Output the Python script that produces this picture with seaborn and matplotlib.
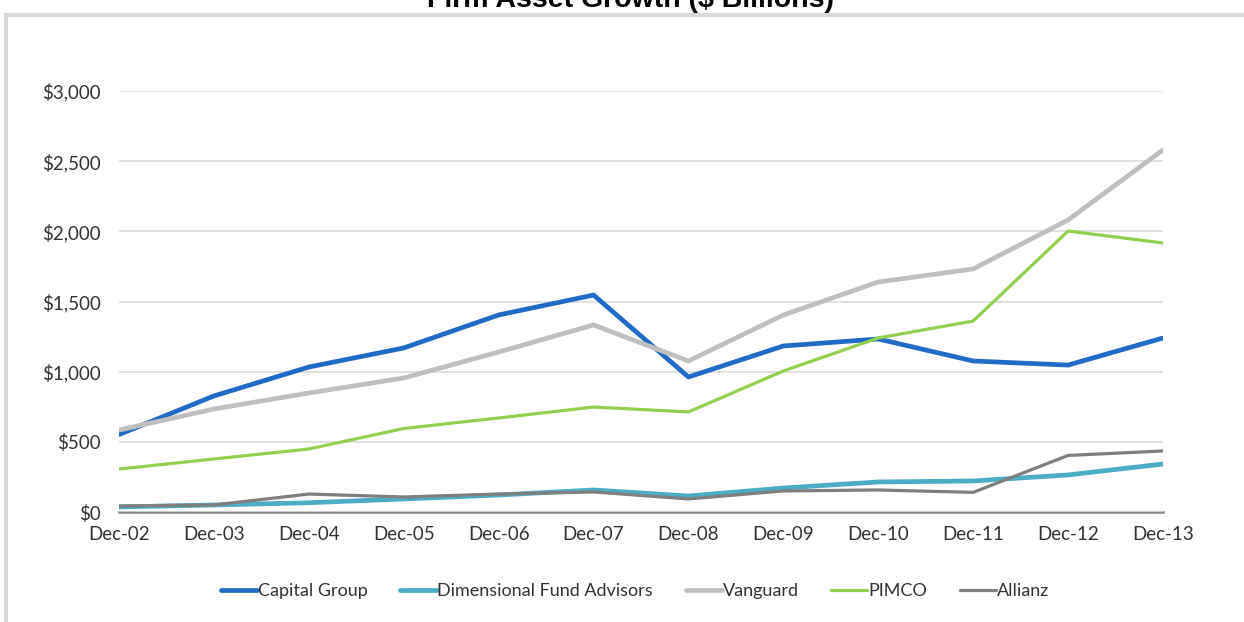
import numpy as np
import pandas as pd
import matplotlib
matplotlib.use("Agg")
import matplotlib.pyplot as plt
import seaborn as sns
from matplotlib.patches import Rectangle
from matplotlib.ticker import FuncFormatter


# DATA ($ billions)

dates = ["Dec-02", "Dec-03", "Dec-04", "Dec-05", "Dec-06", "Dec-07",
         "Dec-08", "Dec-09", "Dec-10", "Dec-11", "Dec-12", "Dec-13"]

capital_group = [552, 827, 1033, 1169, 1404, 1546, 962, 1183, 1233, 1076, 1047, 1240]
dimensional = [36, 50, 66, 93, 121, 157, 114, 171, 214, 221, 264, 342]
vanguard = [584, 734, 848, 955, 1140, 1333, 1076, 1404, 1639, 1732, 2081, 2580]
pimco = [306, 378, 449, 595, 670, 748, 713, 1005, 1240, 1361, 2002, 1917]
allianz = [43, 50, 128, 107, 128, 143, 93, 150, 157, 140, 403, 435]

series_names = ["Capital Group", "Dimensional Fund Advisors", "Vanguard", "PIMCO", "Allianz"]
series_values = [capital_group, dimensional, vanguard, pimco, allianz]
colors = ["#1F6BC5", "#4BACC6", "#BFBFBF", "#92D050", "#7F7F7F"]
widths = [3.4, 3.4, 3.4, 2.3, 2.3]

y_ticks = [0, 500, 1000, 1500, 2000, 2500, 3000]


# PLOT

sns.set_style("white")
plt.rcParams["font.family"] = ["Lato", "DejaVu Sans"]

fig = plt.figure(figsize=(12.44, 6.22), dpi=100)
ax = fig.add_axes([119 / 1244, 1 - 512 / 622, (1163 - 119) / 1244, (512 - 91) / 622])

x = np.arange(len(dates))

for name, vals, col, lw in zip(series_names, series_values, colors, widths):
    sns.lineplot(
        x=x,
        y=vals,
        ax=ax,
        color=col,
        linewidth=lw,
        label=name,
        solid_capstyle="round",
        solid_joinstyle="round"
    )

ax.set_xlim(0, 11)
ax.set_ylim(0, 3000)
ax.set_xticks(x)
ax.set_xticklabels(dates)
ax.set_yticks(y_ticks)
ax.yaxis.set_major_formatter(FuncFormatter(lambda v, p: "${:,.0f}".format(v)))

ax.grid(axis="y", color="#D9D9D9", linewidth=1.1)
ax.set_axisbelow(True)
for s in ["top", "right", "left"]:
    ax.spines[s].set_visible(False)
ax.spines["bottom"].set_color("#868686")
ax.spines["bottom"].set_linewidth(1.8)
ax.spines["bottom"].set_zorder(0.5)

ax.tick_params(axis="both", length=0, labelsize=13.5, labelcolor="#333333")
ax.tick_params(axis="x", pad=10)
ax.tick_params(axis="y", pad=13)
ax.set_xlabel("")
ax.set_ylabel("")

ax.legend(
    loc="center",
    bbox_to_anchor=(635 / 1244, 1 - 591 / 622),
    bbox_transform=fig.transFigure,
    ncol=5,
    frameon=False,
    fontsize=13,
    handlelength=2.0,
    handletextpad=0.05,
    columnspacing=1.8,
    labelcolor="#333333"
)

# outer chart frame
fig.patches.append(Rectangle(
    (6 / 1244, -0.05), 1.2, 1 - 15 / 622 + 0.05,
    transform=fig.transFigure,
    fill=False,
    edgecolor="#D9D9D9",
    linewidth=3,
    zorder=0
))

fig.text(
    630 / 1244, 1 - 7 / 622,
    "Firm Asset Growth ($ Billions)",
    ha="center",
    va="baseline",
    fontsize=20.5,
    fontweight="bold",
    family=["Liberation Sans", "DejaVu Sans"],
    color="black"
)

fig.savefig("out.png", dpi=100)
